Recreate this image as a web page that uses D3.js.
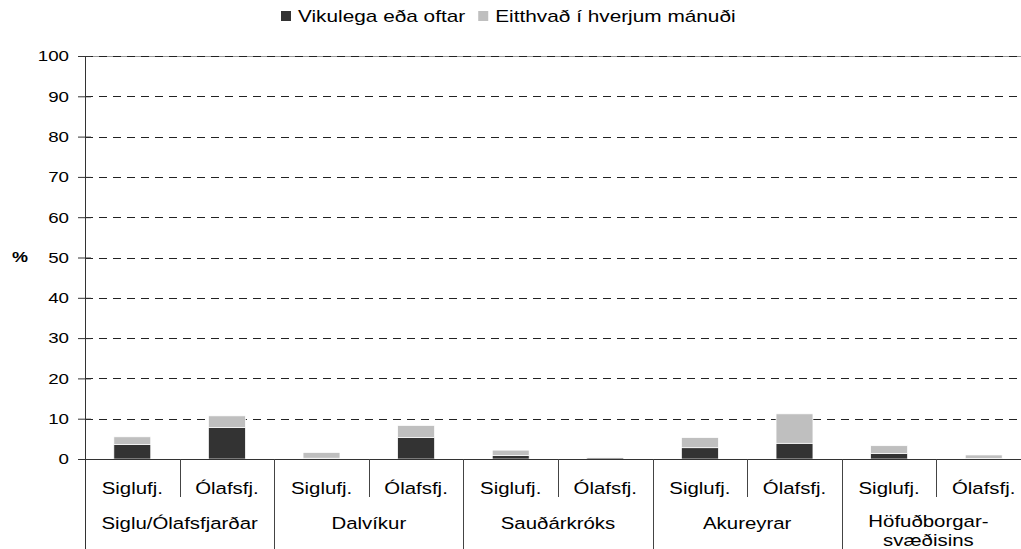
<!DOCTYPE html>
<html><head><meta charset="utf-8">
<script src="https://cdn.jsdelivr.net/npm/d3@7"></script>
<style>body{margin:0;background:#fff}svg{display:block}text{font-family:"Liberation Sans",Arial,sans-serif;fill:#000}</style>
</head><body><svg id="c" width="1021" height="549"></svg>
<script>
const groups = ["Siglu/Ólafsfjarðar","Dalvíkur","Sauðárkróks","Akureyrar","Höfuðborgar-\nsvæðisins"];
const subs = ["Siglufj.","Ólafsfj."];
const seriesNames = ["Vikulega eða oftar","Eitthvað í hverjum mánuði"];
const weekly  = [3.6, 7.8, 0.2, 5.3, 0.9, 0.3, 2.8, 3.9, 1.4, 0.1];
const monthly = [1.9, 2.9, 1.4, 3.0, 1.3, 0.2, 2.5, 7.3, 1.9, 0.9];
const yTicks = [0,10,20,30,40,50,60,70,80,90,100];
const colors = ["#333333","#bfbfbf"];

(function(){
const svg = d3.select("#c");
const W = 1021, H = 549;
const mLeft = 85, mTop = 56, mBottom = 459, plotRight = 1031;
const sx = 1.2;

const idx = d3.range(groups.length*subs.length);
const x = d3.scaleBand().domain(idx).range([mLeft, plotRight]).padding(0);
const xg = d3.scaleBand().domain(d3.range(groups.length)).range([mLeft, plotRight]).padding(0);
const y = d3.scaleLinear().domain([0,100]).range([mBottom, mTop]);

// gridlines
svg.append("line").attr("x1",mLeft).attr("x2",W).attr("y1",Math.round(y(100))+0.5).attr("y2",Math.round(y(100))+0.5).attr("stroke","#999").attr("stroke-width",1);
svg.selectAll("line.grid").data(yTicks.filter(d=>d>0)).join("line").attr("class","grid")
  .attr("x1",mLeft).attr("x2",W).attr("y1",d=>Math.round(y(d))+0.5).attr("y2",d=>Math.round(y(d))+0.5)
  .attr("stroke","#222").attr("stroke-width",1).attr("stroke-dasharray","8,6");

// bars
const bw = x.bandwidth()*0.39;
idx.forEach(i=>{
  let base = 0;
  [weekly[i], monthly[i]].forEach((v,s)=>{
    if (v<=0) return;
    svg.append("rect")
      .attr("x", x(i)+(x.bandwidth()-bw)/2)
      .attr("width", bw)
      .attr("y", y(base+v))
      .attr("height", y(base)-y(base+v))
      .attr("fill", colors[s]).attr("stroke","#fff").attr("stroke-width",0.7);
    base += v;
  });
});

// y axis
const yAxis = d3.axisLeft(y).tickValues(yTicks).tickSize(7).tickPadding(9);
const ya = svg.append("g").attr("transform",`translate(${mLeft},0)`).call(yAxis);
ya.select(".domain").remove();
ya.selectAll(".tick line").attr("x2",-7).attr("x1",6).attr("stroke","#333");
ya.selectAll(".tick text").attr("font-size",15).style("font-family","Liberation Sans, Arial, sans-serif").attr("fill","#000")
  .each(function(){ const t=d3.select(this); const xx=+t.attr("x"); t.attr("x",null).attr("transform",`translate(${xx},0) scale(1.25,1)`); });
svg.append("line").attr("x1",mLeft+0.5).attr("x2",mLeft+0.5).attr("y1",mTop).attr("y2",H).attr("stroke","#333");

// x axis baseline
svg.append("line").attr("x1",mLeft).attr("x2",W).attr("y1",mBottom+0.5).attr("y2",mBottom+0.5).attr("stroke","#333");
// dividers
idx.slice(1).forEach(i=>{
  const isGroup = i % subs.length === 0;
  svg.append("line").attr("x1",Math.round(x(i))+0.5).attr("x2",Math.round(x(i))+0.5)
    .attr("y1",mBottom).attr("y2",isGroup?H:497).attr("stroke","#444");
});
// sub labels
idx.forEach(i=>{
  svg.append("text").attr("transform",`translate(${x(i)+x.bandwidth()/2},494) scale(${sx},1)`)
    .attr("text-anchor","middle").attr("font-size",17).text(subs[i%subs.length]);
});
// group labels
groups.forEach((g,gi)=>{
  const lines = g.split("\n");
  const multi = lines.length>1;
  const cx = xg(gi)+xg.bandwidth()/2 - (multi ? 8 : 0);
  lines.forEach((ln,li)=>{
    const by = multi ? 527 + li*18.5 : 529;
    svg.append("text").attr("transform",`translate(${cx},${by}) scale(${sx},1)`)
      .attr("text-anchor","middle").attr("font-size",17).text(ln);
  });
});

// % label
svg.append("text").attr("transform","translate(20,262) scale(1.2,1)").attr("text-anchor","middle")
  .attr("font-size",15).attr("font-weight","bold").text("%");

// legend
const leg = svg.append("g");
let lx = 281;
seriesNames.forEach((n,s)=>{
  leg.append("rect").attr("x",lx).attr("y",11).attr("width",10).attr("height",10).attr("fill",colors[s]);
  const t = leg.append("text").attr("transform",`translate(${lx+17},22) scale(1.3,1)`).attr("font-size",16).text(n);
  lx += 17 + t.node().getComputedTextLength()*1.3 + 13;
});
})();
</script></body></html>
